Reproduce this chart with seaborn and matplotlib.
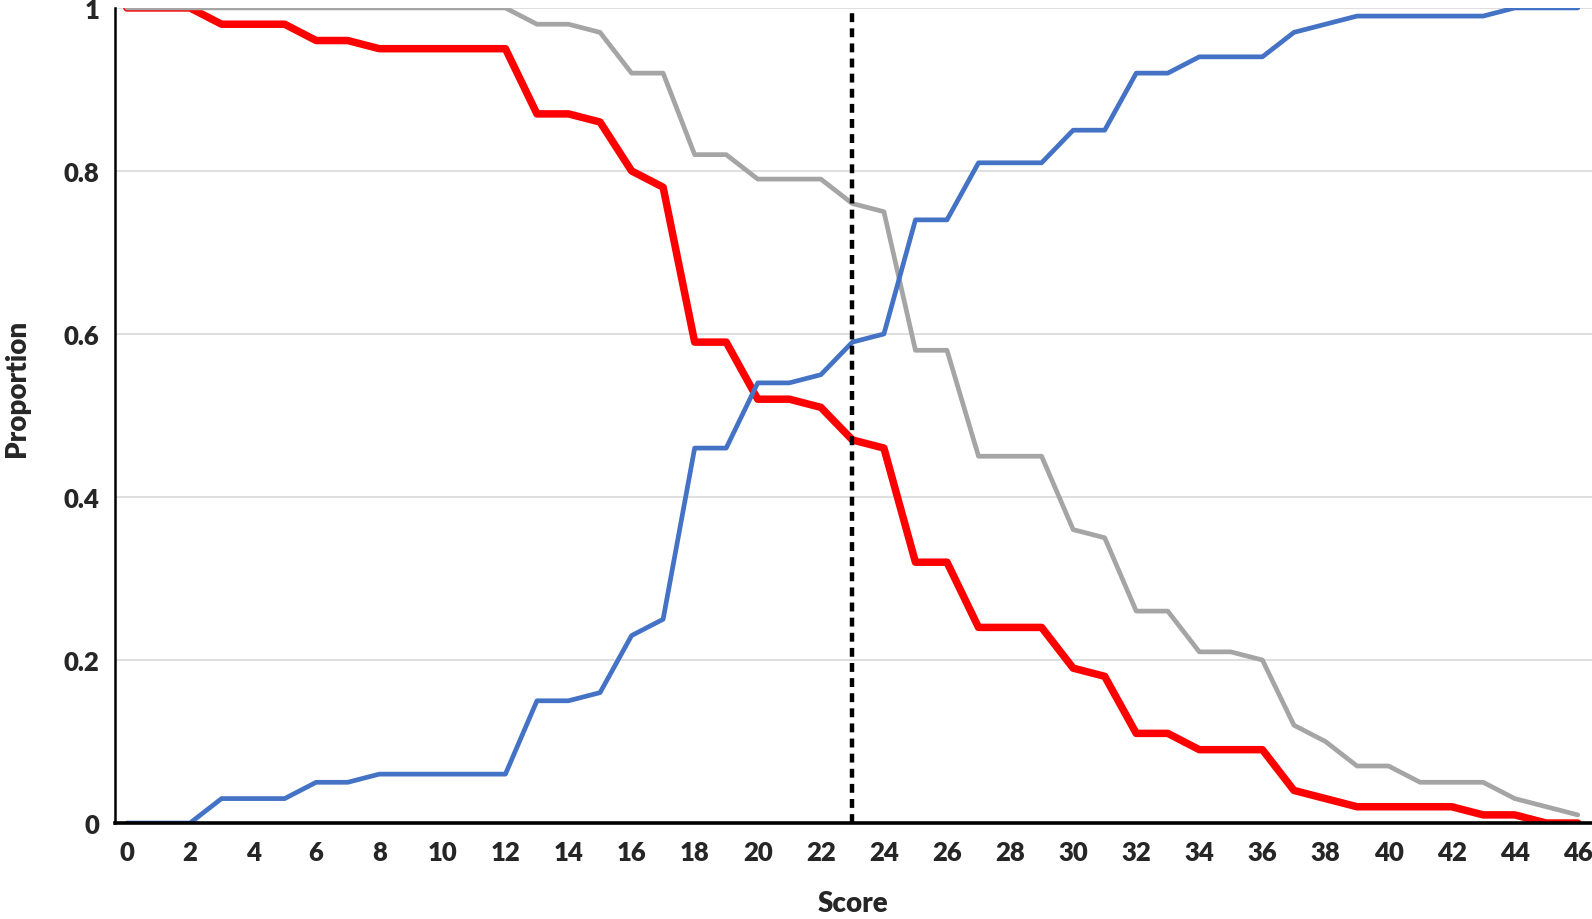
import numpy as np
import pandas as pd
import seaborn as sns
import matplotlib.pyplot as plt

# values, one per integer score 0..46
score = list(range(47))

red_vals = [1, 1, 1, 0.98, 0.98, 0.98, 0.96, 0.96, 0.95, 0.95,
            0.95, 0.95, 0.95, 0.87, 0.87, 0.86, 0.80, 0.78, 0.59, 0.59,
            0.52, 0.52, 0.51, 0.47, 0.46, 0.32, 0.32, 0.24, 0.24, 0.24,
            0.19, 0.18, 0.11, 0.11, 0.09, 0.09, 0.09, 0.04, 0.03, 0.02,
            0.02, 0.02, 0.02, 0.01, 0.01, 0, 0]

blue_vals = [0, 0, 0, 0.03, 0.03, 0.03, 0.05, 0.05, 0.06, 0.06,
             0.06, 0.06, 0.06, 0.15, 0.15, 0.16, 0.23, 0.25, 0.46, 0.46,
             0.54, 0.54, 0.55, 0.59, 0.60, 0.74, 0.74, 0.81, 0.81, 0.81,
             0.85, 0.85, 0.92, 0.92, 0.94, 0.94, 0.94, 0.97, 0.98, 0.99,
             0.99, 0.99, 0.99, 0.99, 1, 1, 1]

gray_vals = [1, 1, 1, 1, 1, 1, 1, 1, 1, 1,
             1, 1, 1, 0.98, 0.98, 0.97, 0.92, 0.92, 0.82, 0.82,
             0.79, 0.79, 0.79, 0.76, 0.75, 0.58, 0.58, 0.45, 0.45, 0.45,
             0.36, 0.35, 0.26, 0.26, 0.21, 0.21, 0.20, 0.12, 0.10, 0.07,
             0.07, 0.05, 0.05, 0.05, 0.03, 0.02, 0.01]

cutoff = 23
xticks = list(range(0, 47, 2))
yticks = [0, 0.2, 0.4, 0.6, 0.8, 1]
ytick_labels = ["0", "0.2", "0.4", "0.6", "0.8", "1"]

df = pd.DataFrame({"Score": score, "red": red_vals, "blue": blue_vals, "gray": gray_vals})

sns.set_style("white")
plt.rcParams['font.family'] = ['Lato', 'DejaVu Sans']

fig = plt.figure(figsize=(15.92, 9.2), dpi=100)
ax = fig.add_axes([0.0722, 0.1043, 0.9278, 0.886])

ax.set_ylim(0, 1)
ax.set_xlim(-0.38, 46.45)
ax.set_yticks(yticks)
ax.yaxis.grid(True, color='#d9d9d9', linewidth=1.2)
ax.set_axisbelow(True)

sns.lineplot(data=df, x="Score", y="red", color='#ff0000', linewidth=5.4, ax=ax, zorder=3)
sns.lineplot(data=df, x="Score", y="gray", color='#a5a5a5', linewidth=3.4, ax=ax, zorder=3)
sns.lineplot(data=df, x="Score", y="blue", color='#4472c4', linewidth=3.4, ax=ax, zorder=4)
ax.axvline(cutoff, ymin=0, ymax=1, color='black', linewidth=3.2, linestyle=(0, (2.0, 1.4)), zorder=5)

ax.set_xticks(xticks)
ax.set_xticklabels([str(t) for t in xticks], fontsize=18.5, fontweight='heavy')
ax.set_yticklabels(ytick_labels, fontsize=18.5, fontweight='heavy')
ax.tick_params(axis='x', length=0, pad=12)
ax.tick_params(axis='y', length=0, pad=11)

for side in ['top', 'right']:
    ax.spines[side].set_visible(False)
ax.spines['left'].set_color('black')
ax.spines['left'].set_linewidth(1.8)
ax.spines['bottom'].set_color('black')
ax.spines['bottom'].set_linewidth(2.6)
ax.spines['bottom'].set_zorder(6)

ax.set_xlabel("Score", fontsize=20, fontweight='heavy', va='center')
ax.set_ylabel("Proportion", fontsize=20, fontweight='heavy', va='center')
ax.xaxis.set_label_coords(0.5, -0.098)
ax.yaxis.set_label_coords(-0.066, 0.534)

plt.savefig("out.png", dpi=100)
